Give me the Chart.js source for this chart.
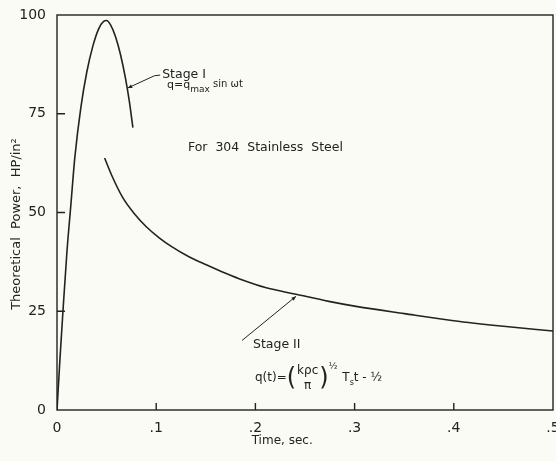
<!DOCTYPE html>
<html>
<head>
<meta charset="utf-8">
<script src="https://cdn.jsdelivr.net/npm/chart.js@4.4.1/dist/chart.umd.min.js"></script>
<style>
  html, body { margin: 0; padding: 0; background: #fbfbf5; }
  canvas { display: block; }
</style>
</head>
<body>
<canvas id="chart" width="556" height="461"></canvas>
<script>
// values
const stage1Time  = [0, 0.003, 0.006, 0.010, 0.014, 0.018, 0.024, 0.030, 0.036, 0.042, 0.047, 0.050, 0.054, 0.059, 0.064, 0.069, 0.073, 0.0765];
const stage1Power = [0, 13, 25, 40, 52, 64, 76.5, 85.5, 92, 96.5, 98.4, 98.6, 97.5, 94.5, 90, 84, 78, 71.5];

const stage2Time  = [0.048, 0.055, 0.066, 0.078, 0.090, 0.103, 0.116, 0.133, 0.151, 0.170, 0.187, 0.210, 0.241, 0.274, 0.300, 0.350, 0.400, 0.450, 0.500];
const stage2Power = [63.8, 59.5, 53.9, 49.7, 46.4, 43.6, 41.3, 38.8, 36.7, 34.6, 32.9, 31.0, 29.3, 27.5, 26.3, 24.4, 22.6, 21.2, 20.0];

const xTicks = [0, 0.1, 0.2, 0.3, 0.4, 0.5];
const xTickLabels = ["0", ".1", ".2", ".3", ".4", ".5"];
const yTicks = [0, 25, 50, 75, 100];
const yTickLabels = ["0", "25", "50", "75", "100"];

const ink = "#222";
const font = "'DejaVu Sans', 'Liberation Sans', sans-serif";

const toPoints = (xs, ys) => xs.map((t, i) => ({ x: t, y: ys[i] }));

// frame, inward ticks, labels and the notes on the plot
const notes = {
    id: "notes",
    afterDraw(chart) {
        const { ctx, chartArea: a, scales: { x, y } } = chart;
        const px = t => x.getPixelForValue(t);
        const py = v => y.getPixelForValue(v);

        ctx.save();
        ctx.strokeStyle = ink;
        ctx.fillStyle = ink;
        ctx.lineWidth = 1.4;
        ctx.strokeRect(a.left, a.top, a.right - a.left, a.bottom - a.top);

        // ticks point into the plot
        ctx.beginPath();
        xTicks.slice(1, -1).forEach(t => {
            ctx.moveTo(px(t), a.bottom);
            ctx.lineTo(px(t), a.bottom - 7);
        });
        yTicks.slice(1, -1).forEach(v => {
            ctx.moveTo(a.left, py(v));
            ctx.lineTo(a.left + 8, py(v));
        });
        ctx.stroke();

        const text = (s, x0, y0, size, align = "left") => {
            ctx.font = size + "px " + font;
            ctx.textAlign = align;
            ctx.textBaseline = "middle";
            ctx.fillText(s, x0, y0);
            return ctx.measureText(s).width;
        };
        const arrow = (pts) => {
            ctx.lineWidth = 1;
            ctx.beginPath();
            ctx.moveTo(pts[0][0], pts[0][1]);
            pts.slice(1).forEach(p => ctx.lineTo(p[0], p[1]));
            ctx.stroke();
            // head at the curve end
            const [x1, y1] = pts[0], [x2, y2] = pts[1];
            const ang = Math.atan2(y1 - y2, x1 - x2);
            ctx.beginPath();
            ctx.moveTo(x1, y1);
            ctx.lineTo(x1 - 5 * Math.cos(ang - 0.4), y1 - 5 * Math.sin(ang - 0.4));
            ctx.lineTo(x1 - 5 * Math.cos(ang + 0.4), y1 - 5 * Math.sin(ang + 0.4));
            ctx.closePath();
            ctx.fill();
        };

        // axis titles
        text("Time, sec.", px(0.227), 441, 12, "center");
        ctx.save();
        ctx.translate(17, 224);
        ctx.rotate(-Math.PI / 2);
        text("Theoretical  Power,  HP/in²", 0, 0, 13, "center");
        ctx.restore();

        // Stage I
        arrow([[px(0.0712), py(81.5)], [px(0.098), py(84.6)], [px(0.104), py(84.8)]]);
        text("Stage I", px(0.106), py(84.8), 12.5);
        let cx = px(0.111), cy = py(82.2);
        cx += text("q=q", cx, cy, 11);
        cx += text("max", cx, cy + 4, 9);
        text(" sin ωt", cx, cy - 1, 10);

        text("For  304  Stainless  Steel", px(0.132), py(66.3), 12.5);

        // Stage II
        arrow([[px(0.241), py(28.8)], [px(0.1865), py(17.6)]]);
        text("Stage II", px(0.1976), py(16.5), 12.5);
        cx = px(0.1996); cy = py(8.1);
        cx += text("q(t)=", cx, cy, 12);
        cx += text("(", cx, cy + 1, 24);
        const numW = text("kρc", cx + 1, cy - 7, 12);
        text("π", cx + 1 + numW / 2, cy + 8, 12, "center");
        cx += numW + 2;
        cx += text(")", cx, cy + 1, 24);
        cx += text("½", cx, cy - 11, 9) + 5;
        cx += text("T", cx, cy, 12);
        cx += text("s", cx, cy + 5, 8);
        text("t - ½", cx, cy, 12);

        ctx.restore();
    }
};

new Chart(document.getElementById("chart"), {
    type: "scatter",
    data: {
        datasets: [
            {
                label: "Stage I",
                data: toPoints(stage1Time, stage1Power),
                showLine: true,
                borderColor: ink,
                borderWidth: 1.6,
                pointRadius: 0,
                cubicInterpolationMode: "monotone",
            },
            {
                label: "Stage II",
                data: toPoints(stage2Time, stage2Power),
                showLine: true,
                borderColor: ink,
                borderWidth: 1.6,
                pointRadius: 0,
                cubicInterpolationMode: "monotone",
            },
        ],
    },
    options: {
        responsive: false,
        animation: false,
        layout: { padding: { top: 15, right: 3, left: 0, bottom: 0 } },
        plugins: {
            legend: { display: false },
            tooltip: { enabled: false },
        },
        scales: {
            x: {
                type: "linear",
                min: 0,
                max: 0.5,
                afterBuildTicks: s => { s.ticks = xTicks.map(v => ({ value: v })); },
                afterFit: s => { s.height = 51; s.paddingLeft = 0; s.paddingRight = 0; },
                grid: { display: false },
                border: { display: false },
                ticks: {
                    callback: (v, i) => xTickLabels[i],
                    color: ink,
                    font: { family: font, size: 14 },
                    padding: 2,
                    maxRotation: 0,
                },
            },
            y: {
                min: 0,
                max: 100,
                afterBuildTicks: s => { s.ticks = yTicks.map(v => ({ value: v })); },
                afterFit: s => { s.width = 57; s.paddingTop = 0; s.paddingBottom = 0; },
                grid: { display: false },
                border: { display: false },
                ticks: {
                    callback: (v, i) => yTickLabels[i],
                    color: ink,
                    font: { family: font, size: 14 },
                    padding: 3,
                },
            },
        },
    },
    plugins: [notes],
});
</script>
</body>
</html>
